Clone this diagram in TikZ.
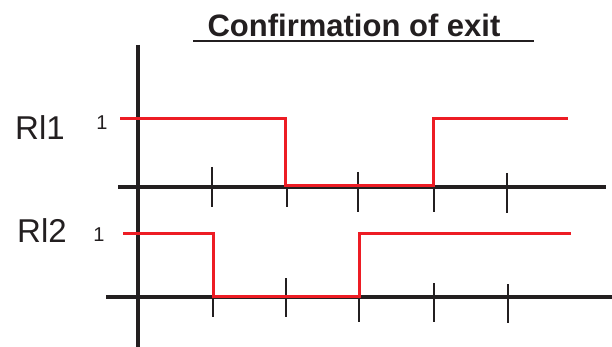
\documentclass[tikz,border=0pt]{standalone}
\usepackage{fontspec}
\setmainfont{Liberation Sans}
\usetikzlibrary{positioning}
\definecolor{sigred}{HTML}{ED1C24}
\definecolor{axisblack}{HTML}{231F20}

\begin{document}
\begin{tikzpicture}[x=1pt, y=-1pt,
  axisline/.style={draw=axisblack, line width=4pt},
  tickline/.style={draw=axisblack, line width=1.2pt},
  signal/.style={draw=sigred, line width=3pt},
  rlabel/.style={font=\fontsize{33}{36}\selectfont, text=axisblack},
  onelabel/.style={font=\fontsize{20}{22}\selectfont, text=axisblack}]
  \useasboundingbox (0,0) rectangle (612,347);

  % title with underline
  \node[font=\bfseries\fontsize{31}{34}\selectfont, text=axisblack] (title) at (354,25) {Confirmation of exit};
  \coordinate (ulL) at (193,41);
  \coordinate (ulR) at (534,41);
  \draw[axisblack, line width=2pt] (ulL) -- (ulR);

  % axes
  \coordinate (vtop) at (138,45);
  \coordinate (vbot) at (138,347);
  \coordinate (hAL) at (118,187);
  \coordinate (hAR) at (606,187);
  \coordinate (hBL) at (106,297);
  \coordinate (hBR) at (612,297);
  \draw[axisline] (vtop) -- (vbot);
  \draw[axisline] (hAL) -- (hAR);
  \draw[axisline] (hBL) -- (hBR);

  % tick marks
  \foreach \n/\x/\t/\b in {1/212/167/207, 2/287/187/207, 3/358/172/212, 4/434/172/212, 5/507/173/213} {
    \draw[tickline] (\x,\t) -- (\x,\b);
  }
  \foreach \n/\x/\t/\b in {1/213/278/317, 2/286/278/317, 3/359/282/322, 4/434/283/322, 5/508/284/323} {
    \draw[tickline] (\x,\t) -- (\x,\b);
  }

  % labels
  \node[rlabel] (rl1) at (40,128) {Rl1};
  \node[rlabel] (rl2) at (42,231) {Rl2};
  \node[onelabel] (one1) at (102,123) {1};
  \node[onelabel] (one2) at (99,235) {1};

  % signals
  \draw[signal] (120,119) -| (285,186) -| (433,119) -- (568,119);
  \draw[signal] (123,233) -| (213,296) -| (359,233) -- (571,233);
\end{tikzpicture}
\end{document}
